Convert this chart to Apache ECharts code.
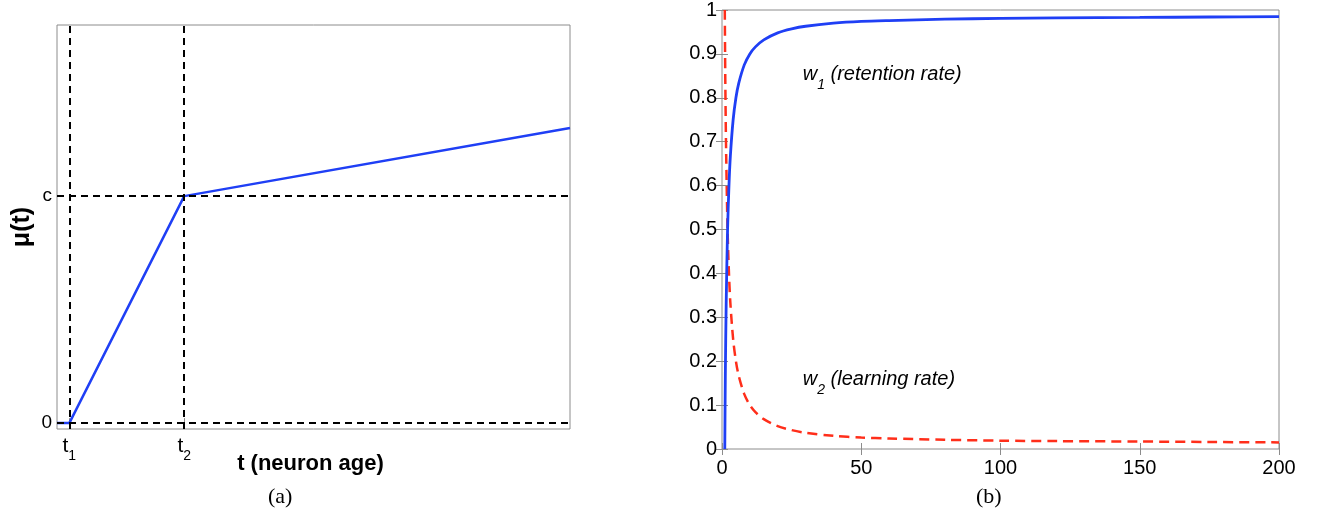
<!DOCTYPE html>
<html>
<head>
<meta charset="utf-8">
<script src="https://cdn.jsdelivr.net/npm/echarts@6/dist/echarts.min.js"></script>
<style>
html,body{margin:0;padding:0;background:#fff;}
#main{width:1319px;height:520px;}
</style>
</head>
<body>
<div id="main"></div>
<script>
// ---------- Panel (a): mu(t) ----------
const t1 = 2.4;
const t2 = 24.8;
const cLevel = 1;
const muT = [0, t1, t2, 100];
const muValues = [0, 0, cLevel, 1.30];
const leftXTickValues = [t1, t2];
const leftXTickLabels = ['{t|t}{s|1}', '{t|t}{s|2}'];
const leftYTickValues = [0, cLevel];
const leftYTickLabels = ['0', 'c'];

// ---------- Panel (b): w1, w2 ----------
const tValues  = [1, 1.2, 1.5, 2, 2.5, 3, 4, 5, 6, 8, 10, 12, 15, 20, 25, 30, 40, 50, 60, 80, 100, 120, 150, 175, 200];
const w1Values = [0, 0.17, 0.33, 0.5, 0.6, 0.667, 0.75, 0.8, 0.833, 0.875, 0.9, 0.916, 0.932, 0.948, 0.957, 0.963, 0.970, 0.974, 0.976, 0.979, 0.981, 0.982, 0.983, 0.984, 0.985];
const w2Values = [1.0, 0.83, 0.67, 0.5, 0.4, 0.333, 0.25, 0.2, 0.167, 0.125, 0.1, 0.084, 0.068, 0.052, 0.043, 0.037, 0.030, 0.026, 0.024, 0.021, 0.019, 0.018, 0.017, 0.016, 0.015];

const FONT = '"Liberation Sans", Arial, Helvetica, sans-serif';
const SERIF = '"Liberation Serif", "Times New Roman", serif';
const BLUE = '#1f3ff5';
const RED = '#ff2e1a';
const GRAY = '#8c8c8c';

const muData = muT.map((t, i) => [t, muValues[i]]);
const w1Data = tValues.map((t, i) => [t, w1Values[i]]);
const w2Data = tValues.map((t, i) => [t, w2Values[i]]);

const chart = echarts.init(document.getElementById('main'), null, {renderer: 'canvas'});

const annRich = {
  w: {fontFamily: FONT, fontStyle: 'italic', fontSize: 20, color: '#000', lineHeight: 36},
  s: {fontFamily: FONT, fontStyle: 'italic', fontSize: 14, color: '#000', lineHeight: 14, verticalAlign: 'bottom'},
  r: {fontFamily: FONT, fontStyle: 'italic', fontSize: 20, color: '#000', lineHeight: 36}
};

const option = {
  backgroundColor: '#fff',
  animation: false,
  grid: [
    {left: 57, top: 25, width: 513, height: 404, show: true, borderColor: GRAY, borderWidth: 1, backgroundColor: 'transparent'},
    {left: 722, top: 9, width: 557, height: 440, show: true, borderColor: GRAY, borderWidth: 1, backgroundColor: 'transparent'}
  ],
  xAxis: [
    {
      type: 'value', gridIndex: 0, min: 0, max: 100,
      name: 't (neuron age)', nameLocation: 'middle', nameGap: 24, nameMoveOverlap: false,
      nameTextStyle: {fontFamily: FONT, fontSize: 22, fontWeight: 'bold', color: '#000', padding: [0, 6, 0, 0]},
      axisLine: {show: false},
      axisTick: {show: true, inside: true, length: 5, customValues: leftXTickValues, lineStyle: {color: GRAY}},
      splitLine: {show: false},
      axisLabel: {
        customValues: leftXTickValues, margin: 0,
        formatter: v => leftXTickLabels[leftXTickValues.indexOf(v)] || '',
        rich: {
          t: {fontFamily: FONT, fontSize: 21, color: '#000', lineHeight: 34},
          s: {fontFamily: FONT, fontSize: 14, color: '#000', lineHeight: 14, verticalAlign: 'bottom'}
        }
      }
    },
    {
      type: 'value', gridIndex: 1, min: 0, max: 200, interval: 50,
      axisLine: {show: false},
      axisTick: {show: true, inside: true, length: 6, lineStyle: {color: GRAY}},
      splitLine: {show: false},
      axisLabel: {fontFamily: FONT, fontSize: 20, color: '#000', margin: 9}
    },
    {
      type: 'value', gridIndex: 1, min: 0, max: 200, interval: 50, position: 'top',
      axisLine: {show: false},
      axisTick: {show: true, inside: true, length: 6, lineStyle: {color: GRAY}},
      splitLine: {show: false},
      axisLabel: {show: false}
    }
  ],
  yAxis: [
    {
      type: 'value', gridIndex: 0, min: -0.026, max: 1.754,
      name: 'μ(t)', nameLocation: 'middle', nameGap: 22, nameRotate: 90, nameMoveOverlap: false,
      nameTextStyle: {fontFamily: FONT, fontSize: 25, fontWeight: 'bold', color: '#000'},
      axisLine: {show: false},
      axisTick: {show: true, inside: true, length: 5, customValues: leftYTickValues, lineStyle: {color: GRAY}},
      splitLine: {show: false},
      axisLabel: {
        customValues: leftYTickValues, margin: 5,
        fontFamily: FONT, fontSize: 19, color: '#000',
        formatter: v => leftYTickLabels[leftYTickValues.indexOf(v)] || ''
      }
    },
    {
      type: 'value', gridIndex: 1, min: 0, max: 1, interval: 0.1,
      axisLine: {show: false},
      axisTick: {show: true, inside: true, length: 6, lineStyle: {color: GRAY}},
      splitLine: {show: false},
      axisLabel: {fontFamily: FONT, fontSize: 20, color: '#000', margin: 5}
    },
    {
      type: 'value', gridIndex: 1, min: 0, max: 1, interval: 0.1, position: 'right',
      axisLine: {show: false},
      axisTick: {show: true, inside: true, length: 6, lineStyle: {color: GRAY}},
      splitLine: {show: false},
      axisLabel: {show: false}
    }
  ],
  series: [
    {
      type: 'line', xAxisIndex: 0, yAxisIndex: 0, data: muData,
      showSymbol: false, symbol: 'none', z: 3,
      lineStyle: {color: BLUE, width: 2.5},
      markLine: {
        silent: true, symbol: 'none', label: {show: false},
        lineStyle: {color: '#000', width: 2, type: [7, 5]},
        data: [{xAxis: t1}, {xAxis: t2}, {yAxis: 0}, {yAxis: cLevel}]
      }
    },
    {
      type: 'line', xAxisIndex: 1, yAxisIndex: 1, data: w1Data, smooth: 0.3,
      showSymbol: false, symbol: 'none', z: 3,
      lineStyle: {color: BLUE, width: 2.8},
      markPoint: {
        symbol: 'circle', symbolSize: 0, silent: true,
        label: {show: true, position: 'right', distance: 0, formatter: '{w|w}{s|1}{r| (retention rate)}', rich: annRich},
        data: [{coord: [29, 0.853]}]
      }
    },
    {
      type: 'line', xAxisIndex: 1, yAxisIndex: 1, data: w2Data, smooth: 0.3,
      showSymbol: false, symbol: 'none', z: 2,
      lineStyle: {color: RED, width: 2.5, type: [10, 6]},
      markPoint: {
        symbol: 'circle', symbolSize: 0, silent: true,
        label: {show: true, position: 'right', distance: 0, formatter: '{w|w}{s|2}{r| (learning rate)}', rich: annRich},
        data: [{coord: [29, 0.159]}]
      }
    }
  ],
  graphic: [
    {type: 'text', left: 268, top: 486, style: {text: '(a)', fontFamily: SERIF, fontSize: 22, fill: '#000'}},
    {type: 'text', left: 976, top: 486, style: {text: '(b)', fontFamily: SERIF, fontSize: 22, fill: '#000'}}
  ]
};
chart.setOption(option);
</script>
</body>
</html>
